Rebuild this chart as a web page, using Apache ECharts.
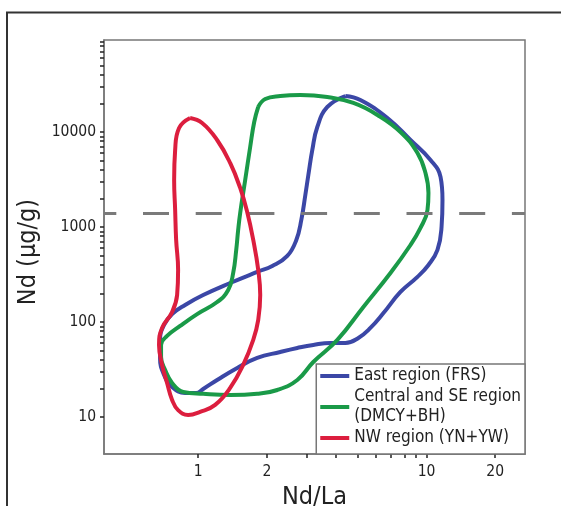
<!DOCTYPE html>
<html>
<head>
<meta charset="utf-8">
<script src="https://cdn.jsdelivr.net/npm/echarts@6/dist/echarts.min.js"></script>
<style>
  html, body { margin: 0; padding: 0; background: #fff; }
  #chart { width: 561px; height: 506px; }
</style>
</head>
<body>
<div id="chart"></div>
<script>
// Outline of each regional field: Nd/La ratio (x) against Nd content in µg/g (y)
const eastNdLa = [4.413, 5.134, 6.745, 8.508, 10.41, 11.52, 11.75, 11.64, 11.17, 10.20, 9.131, 7.691, 6.478, 5.680, 5.032, 4.413, 3.793, 3.194, 2.718, 2.289, 1.814, 1.483, 1.211, 1.052, 0.980, 0.877, 0.769, 0.709, 0.681, 0.681, 0.709, 0.769, 0.877, 1.052, 1.381, 1.814, 2.112, 2.457, 2.691, 2.830, 2.947, 3.038, 3.162, 3.325, 3.680];
const eastNd   = [23920, 21720, 14040, 8236, 5074, 3360, 1924, 1000, 573, 398, 298, 207, 124, 86.5, 67.9, 60.1, 60.1, 57.3, 53.2, 48.3, 41.8, 32.8, 24.5, 19.7, 17.9, 17.9, 20.7, 27.7, 41.8, 64.7, 93.0, 121, 151, 192, 257, 336, 388, 495, 730, 1185, 2172, 3527, 6464, 11290, 18340];

const centralNdLa = [1.833, 1.967, 2.289, 2.802, 3.680, 4.784, 6.097, 7.691, 9.131, 9.899, 10.20, 10.10, 9.412, 8.508, 6.953, 5.292, 4.071, 3.194, 2.718, 2.221, 1.814, 1.381, 1.052, 0.860, 0.769, 0.717, 0.688, 0.688, 0.731, 0.834, 0.990, 1.211, 1.354, 1.424, 1.468, 1.497, 1.528, 1.607, 1.690, 1.760];
const centralNd   = [18340, 22250, 23920, 24520, 23360, 20200, 15100, 10000, 6012, 3702, 2280, 1510, 976, 646, 328, 144, 64.7, 37.9, 24.5, 19.2, 17.5, 17.0, 17.5, 18.3, 22.8, 31.2, 42.8, 57.3, 71.2, 90.8, 121, 162, 217, 328, 573, 930, 1404, 3124, 6953, 12740];

const nwNdLa = [0.922, 1.041, 1.211, 1.381, 1.528, 1.640, 1.743, 1.833, 1.870, 1.833, 1.743, 1.575, 1.381, 1.187, 1.020, 0.904, 0.817, 0.769, 0.731, 0.695, 0.674, 0.695, 0.769, 0.809, 0.817, 0.801, 0.793, 0.785, 0.793, 0.825];
const nwNd   = [14040, 12440, 8236, 4718, 2574, 1438, 730, 353, 192, 105, 64.7, 35.3, 20.2, 13.4, 11.3, 10.5, 11.8, 15.1, 22.8, 35.3, 57.3, 86.5, 127, 192, 353, 730, 1510, 3124, 6464, 11020];

const seriesNames = ['East region (FRS)', 'Central and SE region\n(DMCY+BH)', 'NW region (YN+YW)'];
const seriesColors = ['#3b47a6', '#1a9a48', '#dc1e3e'];

// Horizontal reference level of Nd (µg/g)
const thresholdNd = [1400];

// Axis ticks and labels
const xTickValues = [1, 2, 3, 4, 5, 6, 7, 8, 9, 10, 20];
const xLabelValues = [1, 2, 10, 20];
const yDecades = [10, 100, 1000, 10000];
const yLabelValues = [10, 100, 1000, 10000];

const yTickValues = [];
yDecades.forEach(d => { for (let m = 1; m <= 9; m++) yTickValues.push(m * d); });

const FONT = '"DejaVu Sans Condensed", "DejaVu Sans", sans-serif';

function closedRing(xs, ys) {
  const pts = xs.map((x, i) => [x, ys[i]]);
  pts.push([xs[0], ys[0]]);
  return pts;
}

const rings = [closedRing(eastNdLa, eastNd), closedRing(centralNdLa, centralNd), closedRing(nwNdLa, nwNd)];

const chart = echarts.init(document.getElementById('chart'), null, { renderer: 'canvas' });

const series = rings.map((data, i) => ({
  name: seriesNames[i],
  type: 'line',
  data: data,
  smooth: 0.45,
  symbol: 'none',
  z: 3 + i,
  lineStyle: { color: seriesColors[i], width: 4 },
  itemStyle: { color: seriesColors[i] },
  emphasis: { disabled: true }
}));

series[0].markLine = {
  silent: true,
  symbol: 'none',
  label: { show: false },
  lineStyle: { color: '#7a7a7a', width: 3, type: [26, 26.7], dashOffset: 13.7 },
  data: thresholdNd.map(v => ({ yAxis: v }))
};

chart.setOption({
  animation: false,
  backgroundColor: '#ffffff',
  graphic: [{
    type: 'rect',
    shape: { x: 7, y: 12.5, width: 600, height: 600 },
    style: { fill: 'none', stroke: '#333', lineWidth: 2 },
    silent: true, z: 0
  }],
  grid: {
    left: 104, right: 36, top: 40, bottom: 52,
    containLabel: false,
    outerBoundsMode: 'none',
    show: true, borderColor: '#777', borderWidth: 1.5, backgroundColor: 'transparent'
  },
  legend: {
    orient: 'vertical',
    right: 36, bottom: 52,
    icon: 'rect',
    itemWidth: 29, itemHeight: 4,
    itemGap: 1,
    padding: [2, 4, 6, 4],
    backgroundColor: '#fff',
    borderColor: '#777', borderWidth: 1.5,
    selectedMode: false,
    textStyle: { fontFamily: FONT, fontSize: 17, color: '#222', lineHeight: 20 },
    data: seriesNames
  },
  xAxis: {
    type: 'log',
    logBase: 10,
    min: 0.387, max: 27,
    name: 'Nd/La',
    nameLocation: 'middle',
    nameGap: 19,
    nameTextStyle: { fontFamily: FONT, fontSize: 25, color: '#222' },
    axisLine: { show: true, onZero: false, lineStyle: { color: '#777', width: 1.5 } },
    axisTick: { show: true, inside: false, length: 4, customValues: xTickValues, lineStyle: { color: '#222', width: 1.5 } },
    minorTick: { show: false },
    axisLabel: {
      customValues: xLabelValues, margin: 10,
      fontFamily: FONT, fontSize: 15.5, color: '#222',
      formatter: v => String(Math.round(v * 1000) / 1000)
    },
    splitLine: { show: false }
  },
  yAxis: {
    type: 'log',
    logBase: 10,
    min: 4.07, max: 93000,
    name: 'Nd (µg/g)',
    nameLocation: 'middle',
    nameGap: 60,
    nameRotate: 90,
    nameTextStyle: { fontFamily: FONT, fontSize: 25, color: '#222', padding: [0, 10, 0, 0] },
    axisLine: { show: true, onZero: false, lineStyle: { color: '#777', width: 1.5 } },
    axisTick: { show: true, inside: false, length: 4, customValues: yTickValues, lineStyle: { color: '#222', width: 1.5 } },
    minorTick: { show: false },
    axisLabel: {
      customValues: yLabelValues, margin: 8,
      fontFamily: FONT, fontSize: 15.5, color: '#222',
      formatter: v => String(Math.round(v))
    },
    splitLine: { show: false }
  },
  series: series
});
</script>
</body>
</html>
